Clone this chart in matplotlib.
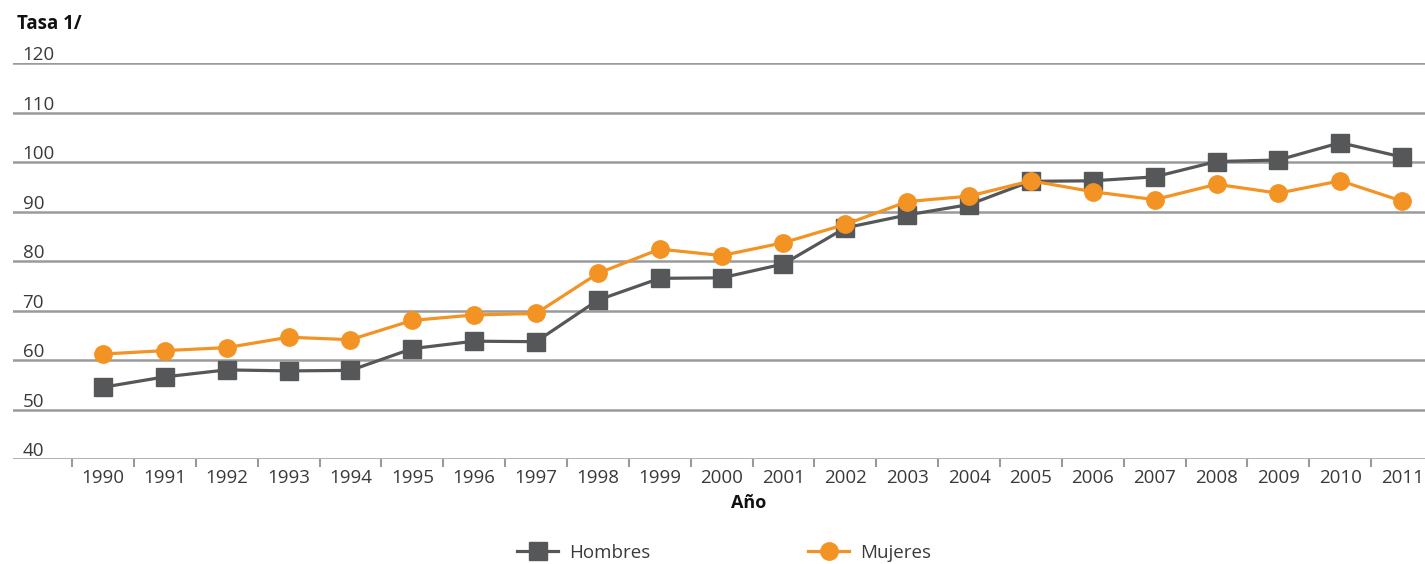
import matplotlib
matplotlib.use("Agg")
import matplotlib.pyplot as plt
from matplotlib.lines import Line2D
import matplotlib.transforms as mtransforms

years = ["1990", "1991", "1992", "1993", "1994", "1995", "1996", "1997", "1998",
         "1999", "2000", "2001", "2002", "2003", "2004", "2005", "2006", "2007",
         "2008", "2009", "2010", "2011"]
hombres = [54.5, 56.6, 58.0, 57.8, 57.9, 62.3, 63.8, 63.7, 72.1, 76.5, 76.6,
           79.4, 86.7, 89.3, 91.4, 96.1, 96.2, 97.0, 100.1, 100.4, 103.9, 101.0]
mujeres = [61.2, 61.9, 62.5, 64.6, 64.1, 68.0, 69.1, 69.4, 77.5, 82.4, 81.1,
           83.7, 87.4, 92.0, 93.1, 96.2, 94.0, 92.4, 95.5, 93.7, 96.2, 92.1]
y_ticks = [40, 50, 60, 70, 80, 90, 100, 110, 120]

GRAY_LINE = "#555759"
ORANGE = "#F39323"
GRID = "#9a9a9c"
TEXT = "#3a3a3a"
FONT = "Open Sans"
FS = 13.5

fig = plt.figure(figsize=(14.25, 5.64), dpi=100)
ax = fig.add_axes([13 / 1425, 1 - 459 / 564, 1 - 13 / 1425, (459 - 63) / 564])

x = list(range(len(years)))
ax.plot(x, hombres, color=GRAY_LINE, lw=2.3, marker="s", ms=12.5,
        mfc=GRAY_LINE, mec=GRAY_LINE, zorder=3, clip_on=False)
ax.plot(x, mujeres, color=ORANGE, lw=2.3, marker="o", ms=12.5,
        mfc=ORANGE, mec=ORANGE, zorder=4, clip_on=False)

ax.set_ylim(40, 120)
ax.set_xlim(-1.455, 21.37)
for s in ax.spines.values():
    s.set_visible(False)

ax.set_yticks(y_ticks)
ax.tick_params(axis="y", length=0, labelleft=False)
ax.yaxis.grid(True, color=GRID, lw=1.8)
ax.set_axisbelow(True)

# Value labels sit just above each gridline, near the left edge
blend = mtransforms.blended_transform_factory(ax.transAxes, ax.transData)
for v in y_ticks:
    ax.text(0.0068, v + 0.6, str(v), transform=blend, ha="left", va="baseline",
            fontsize=FS, color=TEXT, family=FONT)

# Year labels at category centres, tick marks between categories
ax.set_xticks(x)
ax.set_xticklabels(years, fontsize=FS, color=TEXT, family=FONT)
ax.tick_params(axis="x", which="major", length=0, pad=7)
ax.set_xticks([i - 0.5 for i in x], minor=True)
ax.tick_params(axis="x", which="minor", length=6, width=1.5, color=GRID)

fig.text(17 / 1425, 1 - 24 / 564, "Tasa 1/", ha="left", va="center",
         fontsize=13.5, fontweight="bold", color="#111111", family=FONT)
fig.text(749 / 1425, 1 - 503 / 564, "Año", ha="center", va="center",
         fontsize=13, fontweight="bold", color="#111111", family=FONT)

# Two legend entries placed independently along the bottom
entries = [
    (Line2D([], [], color=GRAY_LINE, lw=2.3, marker="s", ms=12.5), "Hombres", 517),
    (Line2D([], [], color=ORANGE, lw=2.3, marker="o", ms=12.5), "Mujeres", 808),
]
for handle, label, px in entries:
    leg = fig.legend([handle], [label], loc="center left",
                     bbox_to_anchor=(px / 1425, 1 - 553 / 564), frameon=False,
                     borderpad=0, borderaxespad=0, handlelength=2.2,
                     handletextpad=0.6, prop={"family": FONT, "size": FS})
    for t in leg.get_texts():
        t.set_color(TEXT)

fig.savefig("out.png", dpi=100)
